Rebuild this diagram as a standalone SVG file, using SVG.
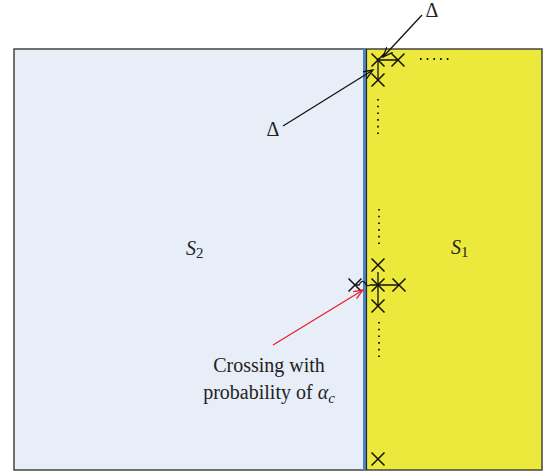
<svg xmlns="http://www.w3.org/2000/svg" width="549" height="472" viewBox="0 0 549 472">
<defs>
<style>
.x{stroke:#111;stroke-width:1.5;fill:none}
.ln{stroke:#111;stroke-width:1.3;fill:none}
.dot{stroke:#111;stroke-width:1.8;stroke-dasharray:1.6 5.1;fill:none}
.lbl{font-family:"Liberation Serif",serif;font-size:20px;fill:#222}
.it{font-style:italic}
</style>
<marker id="ah" markerWidth="12" markerHeight="10" refX="10" refY="4" orient="auto" markerUnits="userSpaceOnUse">
<path d="M0,0 L10,4 L0,8" fill="none" stroke="#111" stroke-width="1.3"/>
</marker>
<marker id="ahr" markerWidth="12" markerHeight="10" refX="10" refY="4" orient="auto" markerUnits="userSpaceOnUse">
<path d="M0,0 L10,4 L0,8" fill="none" stroke="#e8202a" stroke-width="1.3"/>
</marker>
</defs>
<rect width="549" height="472" fill="#ffffff"/>
<g id="S2">
<rect x="14" y="49" width="350" height="421" fill="#e8eef7"/>
<text class="lbl it" x="186" y="255">S<tspan font-style="normal" font-size="15" dy="3">2</tspan></text>
</g>
<g id="S1">
<rect x="366" y="49" width="176" height="421" fill="#ede83c"/>
<text class="lbl it" x="451" y="254">S<tspan font-style="normal" font-size="15" dy="3">1</tspan></text>
</g>
<g id="frame">
<rect x="14" y="49" width="528" height="421" fill="none" stroke="#444" stroke-width="1.5"/>
<rect x="363" y="49" width="3.2" height="421" fill="#4f81bd"/>
<line x1="366.5" y1="49" x2="366.5" y2="470" stroke="#1a2a44" stroke-width="1.2"/>
</g>
<g id="top-cluster">
<path class="x" d="M371.5,53.5 l13,13 M384.5,53.5 l-13,13"/>
<path class="x" d="M391.5,53.5 l13,13 M404.5,53.5 l-13,13"/>
<path class="x" d="M371.5,73.5 l13,13 M384.5,73.5 l-13,13"/>
<path class="ln" d="M378,60 L398,60 M378,58 L378,80"/>
<line class="dot" x1="420" y1="59" x2="450" y2="59"/>
<line class="dot" x1="378" y1="99" x2="378" y2="136"/>
</g>
<g id="mid-cluster">
<line class="dot" x1="379" y1="209" x2="379" y2="246"/>
<path class="x" d="M371.5,258.5 l13,13 M384.5,258.5 l-13,13"/>
<path class="x" d="M371.5,278.5 l13,13 M384.5,278.5 l-13,13"/>
<path class="x" d="M392.5,278.5 l13,13 M405.5,278.5 l-13,13"/>
<path class="x" d="M348.5,278.5 l13,13 M361.5,278.5 l-13,13"/>
<path class="x" d="M371.5,299.5 l13,13 M384.5,299.5 l-13,13"/>
<path class="ln" d="M378,272 L378,306 M378,285 L399,285"/>
<path class="ln" d="M355,285 L359,285 Q362,279 365,283 Q367,287 370,285 L378,285"/>
<line class="dot" x1="379" y1="322" x2="379" y2="360"/>
</g>
<g id="bottom-cross">
<path class="x" d="M371.5,452.5 l13,13 M384.5,452.5 l-13,13"/>
</g>
<g id="connectors">
<line class="ln" x1="422" y1="15" x2="383" y2="57" marker-end="url(#ah)"/>
<line class="ln" x1="283" y1="126" x2="373" y2="70" marker-end="url(#ah)"/>
<line x1="273" y1="345" x2="363" y2="290" stroke="#e8202a" stroke-width="1.3" marker-end="url(#ahr)"/>
</g>
<g id="labels">
<text class="lbl" x="432" y="17" text-anchor="middle" font-size="19">Δ</text>
<text class="lbl" x="273" y="136" text-anchor="middle">Δ</text>
<text class="lbl" x="269" y="372" text-anchor="middle">Crossing with</text>
<text class="lbl" x="269" y="399" text-anchor="middle">probability of <tspan class="it">α</tspan><tspan class="it" font-size="15" dy="4">c</tspan></text>
</g>
</svg>
